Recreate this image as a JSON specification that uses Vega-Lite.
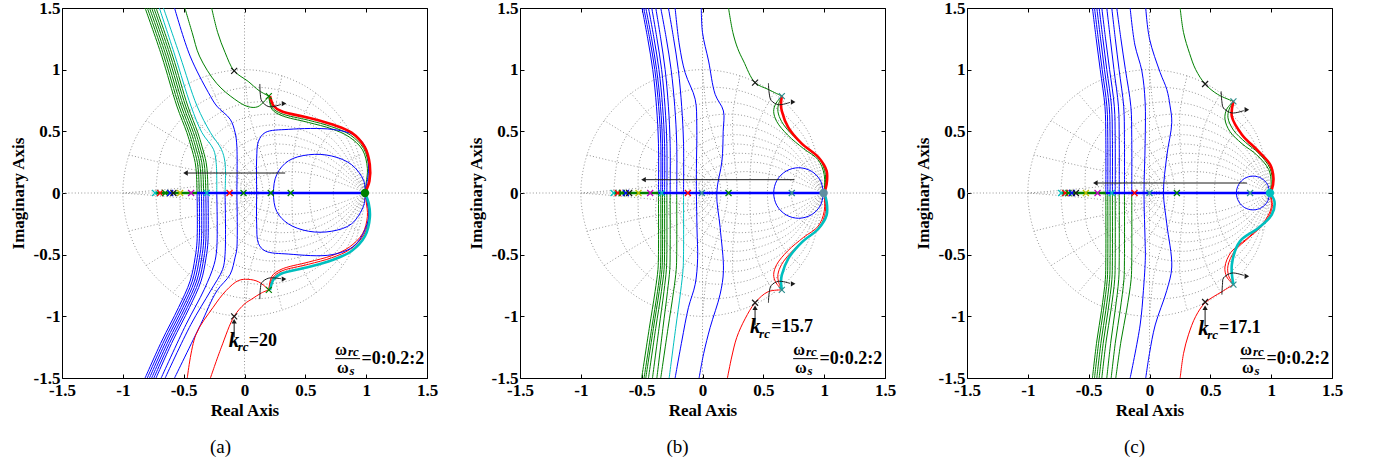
{
"padding":{"left":8,"top":-2,"right":5,"bottom":5},
"config":{"view":{"stroke":"black","strokeWidth":1},"font":"Liberation Serif",
"axis":{"labelFont":"Liberation Serif","labelFontSize":17,"labelFontWeight":"bold","labelColor":"black","titleFont":"Liberation Serif","titleFontSize":17,"titleFontWeight":"bold","titleColor":"black","grid":false,"domain":false,"tickColor":"black","tickWidth":1}},
"datasets":{
"grid":[
{"g":"ah","x":-1.5,"y":0},{"g":"ah","x":1.5,"y":0},{"g":"av","x":0,"y":-1.5},{"g":"av","x":0,"y":1.5},
{"g":"uc","x":1,"y":0},{"g":"uc","x":0.866,"y":0.5},{"g":"uc","x":0.5,"y":0.866},{"g":"uc","x":0,"y":1},{"g":"uc","x":-0.5,"y":0.866},{"g":"uc","x":-0.866,"y":0.5},{"g":"uc","x":-1,"y":0},{"g":"uc","x":-0.866,"y":-0.5},{"g":"uc","x":-0.5,"y":-0.866},{"g":"uc","x":0,"y":-1},{"g":"uc","x":0.5,"y":-0.866},{"g":"uc","x":0.866,"y":-0.5},{"g":"uc","x":1,"y":0},
{"g":"z1u","x":1,"y":0},{"g":"z1u","x":0.822,"y":0.474},{"g":"z1u","x":0.45,"y":0.78},{"g":"z1u","x":0,"y":0.854},{"g":"z1u","x":-0.405,"y":0.702},{"g":"z1u","x":-0.666,"y":0.384},{"g":"z1u","x":-0.729,"y":0},
{"g":"z1l","x":1,"y":0},{"g":"z1l","x":0.822,"y":-0.474},{"g":"z1l","x":0.45,"y":-0.78},{"g":"z1l","x":0,"y":-0.854},{"g":"z1l","x":-0.405,"y":-0.702},{"g":"z1l","x":-0.666,"y":-0.384},{"g":"z1l","x":-0.729,"y":0},
{"g":"z2u","x":1,"y":0},{"g":"z2u","x":0.778,"y":0.449},{"g":"z2u","x":0.404,"y":0.699},{"g":"z2u","x":0,"y":0.726},{"g":"z2u","x":-0.326,"y":0.565},{"g":"z2u","x":-0.508,"y":0.293},{"g":"z2u","x":-0.527,"y":0},
{"g":"z2l","x":1,"y":0},{"g":"z2l","x":0.778,"y":-0.449},{"g":"z2l","x":0.404,"y":-0.699},{"g":"z2l","x":0,"y":-0.726},{"g":"z2l","x":-0.326,"y":-0.565},{"g":"z2l","x":-0.508,"y":-0.293},{"g":"z2l","x":-0.527,"y":0},
{"g":"z3u","x":1,"y":0},{"g":"z3u","x":0.735,"y":0.424},{"g":"z3u","x":0.36,"y":0.623},{"g":"z3u","x":0,"y":0.61},{"g":"z3u","x":-0.259,"y":0.448},{"g":"z3u","x":-0.38,"y":0.22},{"g":"z3u","x":-0.372,"y":0},
{"g":"z3l","x":1,"y":0},{"g":"z3l","x":0.735,"y":-0.424},{"g":"z3l","x":0.36,"y":-0.623},{"g":"z3l","x":0,"y":-0.61},{"g":"z3l","x":-0.259,"y":-0.448},{"g":"z3l","x":-0.38,"y":-0.22},{"g":"z3l","x":-0.372,"y":0},
{"g":"z4u","x":1,"y":0},{"g":"z4u","x":0.689,"y":0.398},{"g":"z4u","x":0.317,"y":0.548},{"g":"z4u","x":0,"y":0.504},{"g":"z4u","x":-0.201,"y":0.347},{"g":"z4u","x":-0.276,"y":0.16},{"g":"z4u","x":-0.254,"y":0},
{"g":"z4l","x":1,"y":0},{"g":"z4l","x":0.689,"y":-0.398},{"g":"z4l","x":0.317,"y":-0.548},{"g":"z4l","x":0,"y":-0.504},{"g":"z4l","x":-0.201,"y":-0.347},{"g":"z4l","x":-0.276,"y":-0.16},{"g":"z4l","x":-0.254,"y":0},
{"g":"z5u","x":1,"y":0},{"g":"z5u","x":0.83,"y":0.223},{"g":"z5u","x":0.64,"y":0.37},{"g":"z5u","x":0.273,"y":0.473},{"g":"z5u","x":0,"y":0.404},{"g":"z5u","x":-0.149,"y":0.259},{"g":"z5u","x":-0.191,"y":0.11},{"g":"z5u","x":-0.163,"y":0},
{"g":"z5l","x":1,"y":0},{"g":"z5l","x":0.83,"y":-0.223},{"g":"z5l","x":0.64,"y":-0.37},{"g":"z5l","x":0.273,"y":-0.473},{"g":"z5l","x":0,"y":-0.404},{"g":"z5l","x":-0.149,"y":-0.259},{"g":"z5l","x":-0.191,"y":-0.11},{"g":"z5l","x":-0.163,"y":0},
{"g":"z6u","x":1,"y":0},{"g":"z6u","x":0.794,"y":0.213},{"g":"z6u","x":0.585,"y":0.338},{"g":"z6u","x":0.228,"y":0.395},{"g":"z6u","x":0,"y":0.308},{"g":"z6u","x":-0.104,"y":0.18},{"g":"z6u","x":-0.122,"y":0.07},{"g":"z6u","x":-0.095,"y":0},
{"g":"z6l","x":1,"y":0},{"g":"z6l","x":0.794,"y":-0.213},{"g":"z6l","x":0.585,"y":-0.338},{"g":"z6l","x":0.228,"y":-0.395},{"g":"z6l","x":0,"y":-0.308},{"g":"z6l","x":-0.104,"y":-0.18},{"g":"z6l","x":-0.122,"y":-0.07},{"g":"z6l","x":-0.095,"y":0},
{"g":"z7u","x":1,"y":0},{"g":"z7u","x":0.747,"y":0.2},{"g":"z7u","x":0.518,"y":0.299},{"g":"z7u","x":0.179,"y":0.31},{"g":"z7u","x":0,"y":0.215},{"g":"z7u","x":-0.064,"y":0.111},{"g":"z7u","x":-0.067,"y":0.038},{"g":"z7u","x":-0.046,"y":0},
{"g":"z7l","x":1,"y":0},{"g":"z7l","x":0.747,"y":-0.2},{"g":"z7l","x":0.518,"y":-0.299},{"g":"z7l","x":0.179,"y":-0.31},{"g":"z7l","x":0,"y":-0.215},{"g":"z7l","x":-0.064,"y":-0.111},{"g":"z7l","x":-0.067,"y":-0.038},{"g":"z7l","x":-0.046,"y":0},
{"g":"z8u","x":1,"y":0},{"g":"z8u","x":0.681,"y":0.183},{"g":"z8u","x":0.431,"y":0.249},{"g":"z8u","x":0.124,"y":0.214},{"g":"z8u","x":0,"y":0.123},{"g":"z8u","x":-0.031,"y":0.053},{"g":"z8u","x":-0.015,"y":0},
{"g":"z8l","x":1,"y":0},{"g":"z8l","x":0.681,"y":-0.183},{"g":"z8l","x":0.431,"y":-0.249},{"g":"z8l","x":0.124,"y":-0.214},{"g":"z8l","x":0,"y":-0.123},{"g":"z8l","x":-0.031,"y":-0.053},{"g":"z8l","x":-0.015,"y":0},
{"g":"z9u","x":1,"y":0},{"g":"z9u","x":0.563,"y":0.151},{"g":"z9u","x":0.294,"y":0.17},{"g":"z9u","x":0.058,"y":0.1},{"g":"z9u","x":0,"y":0.039},{"g":"z9u","x":-0.002,"y":0},
{"g":"z9l","x":1,"y":0},{"g":"z9l","x":0.563,"y":-0.151},{"g":"z9l","x":0.294,"y":-0.17},{"g":"z9l","x":0.058,"y":-0.1},{"g":"z9l","x":0,"y":-0.039},{"g":"z9l","x":-0.002,"y":0},
{"g":"w1","x":0.951,"y":0.309},{"g":"w1","x":0.88,"y":0.276},{"g":"w1","x":0.823,"y":0.23},{"g":"w1","x":0.781,"y":0.176},{"g":"w1","x":0.752,"y":0.119},{"g":"w1","x":0.736,"y":0.06},{"g":"w1","x":0.73,"y":0},{"g":"w1","x":0.736,"y":-0.06},{"g":"w1","x":0.752,"y":-0.119},{"g":"w1","x":0.781,"y":-0.176},{"g":"w1","x":0.823,"y":-0.23},{"g":"w1","x":0.88,"y":-0.276},{"g":"w1","x":0.951,"y":-0.309},
{"g":"w2","x":0.809,"y":0.588},{"g":"w2","x":0.698,"y":0.485},{"g":"w2","x":0.625,"y":0.378},{"g":"w2","x":0.579,"y":0.276},{"g":"w2","x":0.552,"y":0.179},{"g":"w2","x":0.538,"y":0.088},{"g":"w2","x":0.534,"y":0},{"g":"w2","x":0.538,"y":-0.088},{"g":"w2","x":0.552,"y":-0.179},{"g":"w2","x":0.579,"y":-0.276},{"g":"w2","x":0.625,"y":-0.378},{"g":"w2","x":0.698,"y":-0.485},{"g":"w2","x":0.809,"y":-0.588},
{"g":"w3","x":0.588,"y":0.809},{"g":"w3","x":0.481,"y":0.619},{"g":"w3","x":0.428,"y":0.455},{"g":"w3","x":0.404,"y":0.317},{"g":"w3","x":0.394,"y":0.201},{"g":"w3","x":0.391,"y":0.097},{"g":"w3","x":0.39,"y":0},{"g":"w3","x":0.391,"y":-0.097},{"g":"w3","x":0.394,"y":-0.201},{"g":"w3","x":0.404,"y":-0.317},{"g":"w3","x":0.428,"y":-0.455},{"g":"w3","x":0.481,"y":-0.619},{"g":"w3","x":0.588,"y":-0.809},
{"g":"w4","x":0.309,"y":0.951},{"g":"w4","x":0.253,"y":0.677},{"g":"w4","x":0.248,"y":0.473},{"g":"w4","x":0.259,"y":0.319},{"g":"w4","x":0.273,"y":0.198},{"g":"w4","x":0.282,"y":0.095},{"g":"w4","x":0.285,"y":0},{"g":"w4","x":0.282,"y":-0.095},{"g":"w4","x":0.273,"y":-0.198},{"g":"w4","x":0.259,"y":-0.319},{"g":"w4","x":0.248,"y":-0.473},{"g":"w4","x":0.253,"y":-0.677},{"g":"w4","x":0.309,"y":-0.951},
{"g":"w5","x":0,"y":1},{"g":"w5","x":0.036,"y":0.665},{"g":"w5","x":0.095,"y":0.446},{"g":"w5","x":0.146,"y":0.295},{"g":"w5","x":0.181,"y":0.181},{"g":"w5","x":0.201,"y":0.087},{"g":"w5","x":0.208,"y":0},{"g":"w5","x":0.201,"y":-0.087},{"g":"w5","x":0.181,"y":-0.181},{"g":"w5","x":0.146,"y":-0.295},{"g":"w5","x":0.095,"y":-0.446},{"g":"w5","x":0.036,"y":-0.665},{"g":"w5","x":0,"y":-1},
{"g":"w6","x":-0.309,"y":0.951},{"g":"w6","x":-0.152,"y":0.595},{"g":"w6","x":-0.024,"y":0.389},{"g":"w6","x":0.062,"y":0.256},{"g":"w6","x":0.115,"y":0.158},{"g":"w6","x":0.143,"y":0.076},{"g":"w6","x":0.152,"y":0},{"g":"w6","x":0.143,"y":-0.076},{"g":"w6","x":0.115,"y":-0.158},{"g":"w6","x":0.062,"y":-0.256},{"g":"w6","x":-0.024,"y":-0.389},{"g":"w6","x":-0.152,"y":-0.595},{"g":"w6","x":-0.309,"y":-0.951},
{"g":"w7","x":-0.588,"y":0.809},{"g":"w7","x":-0.297,"y":0.482},{"g":"w7","x":-0.109,"y":0.315},{"g":"w7","x":0.003,"y":0.211},{"g":"w7","x":0.068,"y":0.133},{"g":"w7","x":0.101,"y":0.064},{"g":"w7","x":0.111,"y":0},{"g":"w7","x":0.101,"y":-0.064},{"g":"w7","x":0.068,"y":-0.133},{"g":"w7","x":0.003,"y":-0.211},{"g":"w7","x":-0.109,"y":-0.315},{"g":"w7","x":-0.297,"y":-0.482},{"g":"w7","x":-0.588,"y":-0.809},
{"g":"w8","x":-0.809,"y":0.588},{"g":"w8","x":-0.394,"y":0.342},{"g":"w8","x":-0.162,"y":0.234},{"g":"w8","x":-0.035,"y":0.166},{"g":"w8","x":0.035,"y":0.108},{"g":"w8","x":0.07,"y":0.053},{"g":"w8","x":0.081,"y":0},{"g":"w8","x":0.07,"y":-0.053},{"g":"w8","x":0.035,"y":-0.108},{"g":"w8","x":-0.035,"y":-0.166},{"g":"w8","x":-0.162,"y":-0.234},{"g":"w8","x":-0.394,"y":-0.342},{"g":"w8","x":-0.809,"y":-0.588},
{"g":"w9","x":-0.951,"y":0.309},{"g":"w9","x":-0.441,"y":0.193},{"g":"w9","x":-0.187,"y":0.156},{"g":"w9","x":-0.056,"y":0.123},{"g":"w9","x":0.014,"y":0.085},{"g":"w9","x":0.048,"y":0.044},{"g":"w9","x":0.059,"y":0},{"g":"w9","x":0.048,"y":-0.044},{"g":"w9","x":0.014,"y":-0.085},{"g":"w9","x":-0.056,"y":-0.123},{"g":"w9","x":-0.187,"y":-0.156},{"g":"w9","x":-0.441,"y":-0.193},{"g":"w9","x":-0.951,"y":-0.309},
{"g":"w10","x":-1,"y":0},{"g":"w10","x":-0.441,"y":0.048},{"g":"w10","x":-0.19,"y":0.085},{"g":"w10","x":-0.066,"y":0.086},{"g":"w10","x":0,"y":0.066},{"g":"w10","x":0.033,"y":0.035},{"g":"w10","x":0.043,"y":0},{"g":"w10","x":0.033,"y":-0.035},{"g":"w10","x":0,"y":-0.066},{"g":"w10","x":-0.066,"y":-0.086},{"g":"w10","x":-0.19,"y":-0.085},{"g":"w10","x":-0.441,"y":-0.048},{"g":"w10","x":-1,"y":0}
],
"loci":[
{"p":"a","s":"u1","c":"g","x":-0.39,"y":0},{"p":"a","s":"u1","c":"g","x":-0.395,"y":0.15},{"p":"a","s":"u1","c":"g","x":-0.405,"y":0.246},{"p":"a","s":"u1","c":"g","x":-0.44,"y":0.38},{"p":"a","s":"u1","c":"g","x":-0.474,"y":0.49},{"p":"a","s":"u1","c":"g","x":-0.556,"y":0.705},{"p":"a","s":"u1","c":"g","x":-0.68,"y":1.11},{"p":"a","s":"u1","c":"g","x":-0.817,"y":1.5},
{"p":"a","s":"u2","c":"g","x":-0.372,"y":0},{"p":"a","s":"u2","c":"g","x":-0.377,"y":0.15},{"p":"a","s":"u2","c":"g","x":-0.387,"y":0.246},{"p":"a","s":"u2","c":"g","x":-0.422,"y":0.38},{"p":"a","s":"u2","c":"g","x":-0.456,"y":0.49},{"p":"a","s":"u2","c":"g","x":-0.538,"y":0.705},{"p":"a","s":"u2","c":"g","x":-0.662,"y":1.11},{"p":"a","s":"u2","c":"g","x":-0.799,"y":1.5},
{"p":"a","s":"u3","c":"g","x":-0.354,"y":0},{"p":"a","s":"u3","c":"g","x":-0.359,"y":0.15},{"p":"a","s":"u3","c":"g","x":-0.369,"y":0.246},{"p":"a","s":"u3","c":"g","x":-0.404,"y":0.38},{"p":"a","s":"u3","c":"g","x":-0.438,"y":0.49},{"p":"a","s":"u3","c":"g","x":-0.52,"y":0.705},{"p":"a","s":"u3","c":"g","x":-0.644,"y":1.11},{"p":"a","s":"u3","c":"g","x":-0.781,"y":1.5},
{"p":"a","s":"u4","c":"g","x":-0.336,"y":0},{"p":"a","s":"u4","c":"g","x":-0.341,"y":0.15},{"p":"a","s":"u4","c":"g","x":-0.351,"y":0.246},{"p":"a","s":"u4","c":"g","x":-0.386,"y":0.38},{"p":"a","s":"u4","c":"g","x":-0.42,"y":0.49},{"p":"a","s":"u4","c":"g","x":-0.502,"y":0.705},{"p":"a","s":"u4","c":"g","x":-0.626,"y":1.11},{"p":"a","s":"u4","c":"g","x":-0.763,"y":1.5},
{"p":"a","s":"u5","c":"g","x":-0.318,"y":0},{"p":"a","s":"u5","c":"g","x":-0.323,"y":0.15},{"p":"a","s":"u5","c":"g","x":-0.333,"y":0.246},{"p":"a","s":"u5","c":"g","x":-0.368,"y":0.38},{"p":"a","s":"u5","c":"g","x":-0.402,"y":0.49},{"p":"a","s":"u5","c":"g","x":-0.484,"y":0.705},{"p":"a","s":"u5","c":"g","x":-0.608,"y":1.11},{"p":"a","s":"u5","c":"g","x":-0.745,"y":1.5},
{"p":"a","s":"u6","c":"g","x":-0.3,"y":0},{"p":"a","s":"u6","c":"g","x":-0.305,"y":0.15},{"p":"a","s":"u6","c":"g","x":-0.315,"y":0.246},{"p":"a","s":"u6","c":"g","x":-0.35,"y":0.38},{"p":"a","s":"u6","c":"g","x":-0.384,"y":0.49},{"p":"a","s":"u6","c":"g","x":-0.466,"y":0.705},{"p":"a","s":"u6","c":"g","x":-0.59,"y":1.11},{"p":"a","s":"u6","c":"g","x":-0.727,"y":1.5},
{"p":"a","s":"u7","c":"c","x":-0.228,"y":0},{"p":"a","s":"u7","c":"c","x":-0.233,"y":0.246},{"p":"a","s":"u7","c":"c","x":-0.255,"y":0.354},{"p":"a","s":"u7","c":"c","x":-0.35,"y":0.49},{"p":"a","s":"u7","c":"c","x":-0.44,"y":0.705},{"p":"a","s":"u7","c":"c","x":-0.57,"y":1.11},{"p":"a","s":"u7","c":"c","x":-0.7,"y":1.5},
{"p":"a","s":"u8","c":"c","x":-0.16,"y":0},{"p":"a","s":"u8","c":"c","x":-0.16,"y":0.246},{"p":"a","s":"u8","c":"c","x":-0.19,"y":0.354},{"p":"a","s":"u8","c":"c","x":-0.28,"y":0.49},{"p":"a","s":"u8","c":"c","x":-0.39,"y":0.705},{"p":"a","s":"u8","c":"c","x":-0.53,"y":1.11},{"p":"a","s":"u8","c":"c","x":-0.666,"y":1.5},
{"p":"a","s":"u9","c":"b","x":-0.063,"y":0},{"p":"a","s":"u9","c":"b","x":-0.063,"y":0.38},{"p":"a","s":"u9","c":"b","x":-0.077,"y":0.489},{"p":"a","s":"u9","c":"b","x":-0.118,"y":0.598},{"p":"a","s":"u9","c":"b","x":-0.228,"y":0.705},{"p":"a","s":"u9","c":"b","x":-0.296,"y":0.813},{"p":"a","s":"u9","c":"b","x":-0.447,"y":1.11},{"p":"a","s":"u9","c":"b","x":-0.575,"y":1.5},
{"p":"a","s":"l1","c":"b","x":-0.39,"y":0},{"p":"a","s":"l1","c":"b","x":-0.39,"y":-0.39},{"p":"a","s":"l1","c":"b","x":-0.406,"y":-0.525},{"p":"a","s":"l1","c":"b","x":-0.447,"y":-0.714},{"p":"a","s":"l1","c":"b","x":-0.543,"y":-0.93},{"p":"a","s":"l1","c":"b","x":-0.68,"y":-1.2},{"p":"a","s":"l1","c":"b","x":-0.817,"y":-1.5},
{"p":"a","s":"l2","c":"b","x":-0.372,"y":0},{"p":"a","s":"l2","c":"b","x":-0.372,"y":-0.39},{"p":"a","s":"l2","c":"b","x":-0.388,"y":-0.525},{"p":"a","s":"l2","c":"b","x":-0.429,"y":-0.714},{"p":"a","s":"l2","c":"b","x":-0.525,"y":-0.93},{"p":"a","s":"l2","c":"b","x":-0.662,"y":-1.2},{"p":"a","s":"l2","c":"b","x":-0.799,"y":-1.5},
{"p":"a","s":"l3","c":"b","x":-0.354,"y":0},{"p":"a","s":"l3","c":"b","x":-0.354,"y":-0.39},{"p":"a","s":"l3","c":"b","x":-0.37,"y":-0.525},{"p":"a","s":"l3","c":"b","x":-0.411,"y":-0.714},{"p":"a","s":"l3","c":"b","x":-0.507,"y":-0.93},{"p":"a","s":"l3","c":"b","x":-0.644,"y":-1.2},{"p":"a","s":"l3","c":"b","x":-0.781,"y":-1.5},
{"p":"a","s":"l4","c":"b","x":-0.336,"y":0},{"p":"a","s":"l4","c":"b","x":-0.336,"y":-0.39},{"p":"a","s":"l4","c":"b","x":-0.352,"y":-0.525},{"p":"a","s":"l4","c":"b","x":-0.393,"y":-0.714},{"p":"a","s":"l4","c":"b","x":-0.489,"y":-0.93},{"p":"a","s":"l4","c":"b","x":-0.626,"y":-1.2},{"p":"a","s":"l4","c":"b","x":-0.763,"y":-1.5},
{"p":"a","s":"l5","c":"b","x":-0.318,"y":0},{"p":"a","s":"l5","c":"b","x":-0.318,"y":-0.39},{"p":"a","s":"l5","c":"b","x":-0.334,"y":-0.525},{"p":"a","s":"l5","c":"b","x":-0.375,"y":-0.714},{"p":"a","s":"l5","c":"b","x":-0.471,"y":-0.93},{"p":"a","s":"l5","c":"b","x":-0.608,"y":-1.2},{"p":"a","s":"l5","c":"b","x":-0.745,"y":-1.5},
{"p":"a","s":"l6","c":"b","x":-0.3,"y":0},{"p":"a","s":"l6","c":"b","x":-0.3,"y":-0.39},{"p":"a","s":"l6","c":"b","x":-0.316,"y":-0.525},{"p":"a","s":"l6","c":"b","x":-0.357,"y":-0.714},{"p":"a","s":"l6","c":"b","x":-0.453,"y":-0.93},{"p":"a","s":"l6","c":"b","x":-0.59,"y":-1.2},{"p":"a","s":"l6","c":"b","x":-0.727,"y":-1.5},
{"p":"a","s":"l7","c":"b","x":-0.228,"y":0},{"p":"a","s":"l7","c":"b","x":-0.228,"y":-0.45},{"p":"a","s":"l7","c":"b","x":-0.25,"y":-0.58},{"p":"a","s":"l7","c":"b","x":-0.33,"y":-0.78},{"p":"a","s":"l7","c":"b","x":-0.48,"y":-1.065},{"p":"a","s":"l7","c":"b","x":-0.685,"y":-1.5},
{"p":"a","s":"l8","c":"b","x":-0.16,"y":0},{"p":"a","s":"l8","c":"b","x":-0.16,"y":-0.5},{"p":"a","s":"l8","c":"b","x":-0.18,"y":-0.62},{"p":"a","s":"l8","c":"b","x":-0.28,"y":-0.795},{"p":"a","s":"l8","c":"b","x":-0.44,"y":-1.065},{"p":"a","s":"l8","c":"b","x":-0.652,"y":-1.5},
{"p":"a","s":"l9","c":"b","x":-0.063,"y":0},{"p":"a","s":"l9","c":"b","x":-0.063,"y":-0.45},{"p":"a","s":"l9","c":"b","x":-0.077,"y":-0.52},{"p":"a","s":"l9","c":"b","x":-0.118,"y":-0.66},{"p":"a","s":"l9","c":"b","x":-0.228,"y":-0.795},{"p":"a","s":"l9","c":"b","x":-0.36,"y":-1.065},{"p":"a","s":"l9","c":"b","x":-0.575,"y":-1.5},
{"p":"a","s":"G1","c":"g","x":-0.49,"y":1.5},{"p":"a","s":"G1","c":"g","x":-0.43,"y":1.3},{"p":"a","s":"G1","c":"g","x":-0.37,"y":1.11},{"p":"a","s":"G1","c":"g","x":-0.23,"y":0.89},{"p":"a","s":"G1","c":"g","x":-0.08,"y":0.76},{"p":"a","s":"G1","c":"g","x":0.03,"y":0.7},{"p":"a","s":"G1","c":"g","x":0.11,"y":0.7},{"p":"a","s":"G1","c":"g","x":0.2,"y":0.785},
{"p":"a","s":"G2","c":"g","x":-0.27,"y":1.5},{"p":"a","s":"G2","c":"g","x":-0.22,"y":1.3},{"p":"a","s":"G2","c":"g","x":-0.16,"y":1.14},{"p":"a","s":"G2","c":"g","x":-0.085,"y":0.99},{"p":"a","s":"G2","c":"g","x":0.03,"y":0.905},{"p":"a","s":"G2","c":"g","x":0.12,"y":0.83},{"p":"a","s":"G2","c":"g","x":0.2,"y":0.785},
{"p":"a","s":"R1","c":"r","x":-0.47,"y":-1.5},{"p":"a","s":"R1","c":"r","x":-0.4,"y":-1.15},{"p":"a","s":"R1","c":"r","x":-0.26,"y":-0.93},{"p":"a","s":"R1","c":"r","x":-0.15,"y":-0.79},{"p":"a","s":"R1","c":"r","x":-0.05,"y":-0.71},{"p":"a","s":"R1","c":"r","x":0.03,"y":-0.7},{"p":"a","s":"R1","c":"r","x":0.115,"y":-0.72},{"p":"a","s":"R1","c":"r","x":0.2,"y":-0.785},
{"p":"a","s":"R2","c":"r","x":-0.28,"y":-1.5},{"p":"a","s":"R2","c":"r","x":-0.19,"y":-1.25},{"p":"a","s":"R2","c":"r","x":-0.085,"y":-1},{"p":"a","s":"R2","c":"r","x":0,"y":-0.9},{"p":"a","s":"R2","c":"r","x":0.06,"y":-0.86},{"p":"a","s":"R2","c":"r","x":0.14,"y":-0.81},{"p":"a","s":"R2","c":"r","x":0.2,"y":-0.785},
{"p":"a","s":"gt1","c":"g","x":0.2,"y":0.785},{"p":"a","s":"gt1","c":"g","x":0.23,"y":0.69},{"p":"a","s":"gt1","c":"g","x":0.3,"y":0.645},{"p":"a","s":"gt1","c":"g","x":0.526,"y":0.59},{"p":"a","s":"gt1","c":"g","x":0.717,"y":0.537},{"p":"a","s":"gt1","c":"g","x":0.87,"y":0.47},{"p":"a","s":"gt1","c":"g","x":0.98,"y":0.36},{"p":"a","s":"gt1","c":"g","x":1.02,"y":0.22},{"p":"a","s":"gt1","c":"g","x":1.02,"y":0.09},{"p":"a","s":"gt1","c":"g","x":0.99,"y":0},
{"p":"a","s":"gt2","c":"g","x":0.2,"y":0.785},{"p":"a","s":"gt2","c":"g","x":0.225,"y":0.68},{"p":"a","s":"gt2","c":"g","x":0.3,"y":0.63},{"p":"a","s":"gt2","c":"g","x":0.526,"y":0.572},{"p":"a","s":"gt2","c":"g","x":0.717,"y":0.52},{"p":"a","s":"gt2","c":"g","x":0.86,"y":0.455},{"p":"a","s":"gt2","c":"g","x":0.97,"y":0.35},{"p":"a","s":"gt2","c":"g","x":1.01,"y":0.2},{"p":"a","s":"gt2","c":"g","x":1,"y":0.08},{"p":"a","s":"gt2","c":"g","x":0.99,"y":0},
{"p":"a","s":"rt1","c":"r","x":0.2,"y":-0.785},{"p":"a","s":"rt1","c":"r","x":0.23,"y":-0.69},{"p":"a","s":"rt1","c":"r","x":0.3,"y":-0.635},{"p":"a","s":"rt1","c":"r","x":0.526,"y":-0.578},{"p":"a","s":"rt1","c":"r","x":0.717,"y":-0.525},{"p":"a","s":"rt1","c":"r","x":0.87,"y":-0.455},{"p":"a","s":"rt1","c":"r","x":0.98,"y":-0.34},{"p":"a","s":"rt1","c":"r","x":1.02,"y":-0.2},{"p":"a","s":"rt1","c":"r","x":1.01,"y":-0.08},{"p":"a","s":"rt1","c":"r","x":0.99,"y":0},
{"p":"a","s":"rt2","c":"r","x":0.2,"y":-0.785},{"p":"a","s":"rt2","c":"r","x":0.225,"y":-0.675},{"p":"a","s":"rt2","c":"r","x":0.3,"y":-0.62},{"p":"a","s":"rt2","c":"r","x":0.526,"y":-0.56},{"p":"a","s":"rt2","c":"r","x":0.717,"y":-0.508},{"p":"a","s":"rt2","c":"r","x":0.86,"y":-0.44},{"p":"a","s":"rt2","c":"r","x":0.97,"y":-0.33},{"p":"a","s":"rt2","c":"r","x":1.01,"y":-0.19},{"p":"a","s":"rt2","c":"r","x":1,"y":-0.07},{"p":"a","s":"rt2","c":"r","x":0.99,"y":0},
{"p":"a","s":"lo","c":"b","x":0.99,"y":0},{"p":"a","s":"lo","c":"b","x":1.02,"y":0.2},{"p":"a","s":"lo","c":"b","x":0.99,"y":0.38},{"p":"a","s":"lo","c":"b","x":0.9,"y":0.47},{"p":"a","s":"lo","c":"b","x":0.72,"y":0.516},{"p":"a","s":"lo","c":"b","x":0.36,"y":0.516},{"p":"a","s":"lo","c":"b","x":0.17,"y":0.49},{"p":"a","s":"lo","c":"b","x":0.115,"y":0.42},{"p":"a","s":"lo","c":"b","x":0.1,"y":0.28},{"p":"a","s":"lo","c":"b","x":0.1,"y":0},{"p":"a","s":"lo","c":"b","x":0.1,"y":-0.25},{"p":"a","s":"lo","c":"b","x":0.115,"y":-0.41},{"p":"a","s":"lo","c":"b","x":0.17,"y":-0.47},{"p":"a","s":"lo","c":"b","x":0.36,"y":-0.495},{"p":"a","s":"lo","c":"b","x":0.72,"y":-0.5},{"p":"a","s":"lo","c":"b","x":0.91,"y":-0.42},{"p":"a","s":"lo","c":"b","x":1.02,"y":-0.2},{"p":"a","s":"lo","c":"b","x":0.99,"y":0},
{"p":"a","s":"li","c":"b","x":0.99,"y":0},{"p":"a","s":"li","c":"b","x":0.98,"y":0.1},{"p":"a","s":"li","c":"b","x":0.88,"y":0.23},{"p":"a","s":"li","c":"b","x":0.717,"y":0.3},{"p":"a","s":"li","c":"b","x":0.526,"y":0.31},{"p":"a","s":"li","c":"b","x":0.36,"y":0.26},{"p":"a","s":"li","c":"b","x":0.265,"y":0.15},{"p":"a","s":"li","c":"b","x":0.238,"y":0},{"p":"a","s":"li","c":"b","x":0.265,"y":-0.15},{"p":"a","s":"li","c":"b","x":0.36,"y":-0.25},{"p":"a","s":"li","c":"b","x":0.526,"y":-0.31},{"p":"a","s":"li","c":"b","x":0.717,"y":-0.31},{"p":"a","s":"li","c":"b","x":0.88,"y":-0.25},{"p":"a","s":"li","c":"b","x":0.98,"y":-0.1},{"p":"a","s":"li","c":"b","x":0.99,"y":0},

{"p":"b","s":"u1","c":"b","x":-0.362,"y":0},{"p":"b","s":"u1","c":"b","x":-0.362,"y":0.4},{"p":"b","s":"u1","c":"b","x":-0.378,"y":0.7},{"p":"b","s":"u1","c":"b","x":-0.409,"y":1},{"p":"b","s":"u1","c":"b","x":-0.45,"y":1.25},{"p":"b","s":"u1","c":"b","x":-0.497,"y":1.5},
{"p":"b","s":"u2","c":"b","x":-0.343,"y":0},{"p":"b","s":"u2","c":"b","x":-0.343,"y":0.4},{"p":"b","s":"u2","c":"b","x":-0.36,"y":0.7},{"p":"b","s":"u2","c":"b","x":-0.392,"y":1},{"p":"b","s":"u2","c":"b","x":-0.434,"y":1.25},{"p":"b","s":"u2","c":"b","x":-0.483,"y":1.5},
{"p":"b","s":"u3","c":"b","x":-0.329,"y":0},{"p":"b","s":"u3","c":"b","x":-0.329,"y":0.4},{"p":"b","s":"u3","c":"b","x":-0.345,"y":0.7},{"p":"b","s":"u3","c":"b","x":-0.377,"y":1},{"p":"b","s":"u3","c":"b","x":-0.418,"y":1.25},{"p":"b","s":"u3","c":"b","x":-0.466,"y":1.5},
{"p":"b","s":"u4","c":"b","x":-0.312,"y":0},{"p":"b","s":"u4","c":"b","x":-0.312,"y":0.4},{"p":"b","s":"u4","c":"b","x":-0.328,"y":0.7},{"p":"b","s":"u4","c":"b","x":-0.358,"y":1},{"p":"b","s":"u4","c":"b","x":-0.398,"y":1.25},{"p":"b","s":"u4","c":"b","x":-0.444,"y":1.5},
{"p":"b","s":"u5","c":"b","x":-0.293,"y":0},{"p":"b","s":"u5","c":"b","x":-0.293,"y":0.4},{"p":"b","s":"u5","c":"b","x":-0.308,"y":0.7},{"p":"b","s":"u5","c":"b","x":-0.336,"y":1},{"p":"b","s":"u5","c":"b","x":-0.374,"y":1.25},{"p":"b","s":"u5","c":"b","x":-0.417,"y":1.5},
{"p":"b","s":"u6","c":"b","x":-0.266,"y":0},{"p":"b","s":"u6","c":"b","x":-0.266,"y":0.4},{"p":"b","s":"u6","c":"b","x":-0.28,"y":0.7},{"p":"b","s":"u6","c":"b","x":-0.307,"y":1},{"p":"b","s":"u6","c":"b","x":-0.343,"y":1.25},{"p":"b","s":"u6","c":"b","x":-0.384,"y":1.5},
{"p":"b","s":"u7","c":"b","x":-0.212,"y":0},{"p":"b","s":"u7","c":"b","x":-0.212,"y":0.4},{"p":"b","s":"u7","c":"b","x":-0.228,"y":0.7},{"p":"b","s":"u7","c":"b","x":-0.258,"y":1},{"p":"b","s":"u7","c":"b","x":-0.297,"y":1.25},{"p":"b","s":"u7","c":"b","x":-0.343,"y":1.5},
{"p":"b","s":"u8","c":"b","x":-0.156,"y":0},{"p":"b","s":"u8","c":"b","x":-0.156,"y":0.4},{"p":"b","s":"u8","c":"b","x":-0.171,"y":0.7},{"p":"b","s":"u8","c":"b","x":-0.199,"y":1},{"p":"b","s":"u8","c":"b","x":-0.237,"y":1.25},{"p":"b","s":"u8","c":"b","x":-0.28,"y":1.5},
{"p":"b","s":"l1","c":"g","x":-0.362,"y":0},{"p":"b","s":"l1","c":"g","x":-0.362,"y":-0.5},{"p":"b","s":"l1","c":"g","x":-0.366,"y":-0.62},{"p":"b","s":"l1","c":"g","x":-0.39,"y":-0.8},{"p":"b","s":"l1","c":"g","x":-0.438,"y":-1.1},{"p":"b","s":"l1","c":"g","x":-0.5,"y":-1.5},
{"p":"b","s":"l2","c":"g","x":-0.343,"y":0},{"p":"b","s":"l2","c":"g","x":-0.343,"y":-0.5},{"p":"b","s":"l2","c":"g","x":-0.347,"y":-0.62},{"p":"b","s":"l2","c":"g","x":-0.37,"y":-0.8},{"p":"b","s":"l2","c":"g","x":-0.418,"y":-1.1},{"p":"b","s":"l2","c":"g","x":-0.48,"y":-1.5},
{"p":"b","s":"l3","c":"g","x":-0.329,"y":0},{"p":"b","s":"l3","c":"g","x":-0.329,"y":-0.5},{"p":"b","s":"l3","c":"g","x":-0.333,"y":-0.62},{"p":"b","s":"l3","c":"g","x":-0.356,"y":-0.8},{"p":"b","s":"l3","c":"g","x":-0.404,"y":-1.1},{"p":"b","s":"l3","c":"g","x":-0.466,"y":-1.5},
{"p":"b","s":"l4","c":"g","x":-0.312,"y":0},{"p":"b","s":"l4","c":"g","x":-0.312,"y":-0.5},{"p":"b","s":"l4","c":"g","x":-0.316,"y":-0.62},{"p":"b","s":"l4","c":"g","x":-0.338,"y":-0.8},{"p":"b","s":"l4","c":"g","x":-0.385,"y":-1.1},{"p":"b","s":"l4","c":"g","x":-0.444,"y":-1.5},
{"p":"b","s":"l5","c":"g","x":-0.293,"y":0},{"p":"b","s":"l5","c":"g","x":-0.293,"y":-0.5},{"p":"b","s":"l5","c":"g","x":-0.297,"y":-0.62},{"p":"b","s":"l5","c":"g","x":-0.317,"y":-0.8},{"p":"b","s":"l5","c":"g","x":-0.358,"y":-1.1},{"p":"b","s":"l5","c":"g","x":-0.411,"y":-1.5},
{"p":"b","s":"l6","c":"g","x":-0.266,"y":0},{"p":"b","s":"l6","c":"g","x":-0.266,"y":-0.5},{"p":"b","s":"l6","c":"g","x":-0.269,"y":-0.62},{"p":"b","s":"l6","c":"g","x":-0.288,"y":-0.8},{"p":"b","s":"l6","c":"g","x":-0.326,"y":-1.1},{"p":"b","s":"l6","c":"g","x":-0.375,"y":-1.5},
{"p":"b","s":"l7","c":"g","x":-0.212,"y":0},{"p":"b","s":"l7","c":"g","x":-0.212,"y":-0.5},{"p":"b","s":"l7","c":"g","x":-0.216,"y":-0.62},{"p":"b","s":"l7","c":"g","x":-0.238,"y":-0.8},{"p":"b","s":"l7","c":"g","x":-0.284,"y":-1.1},{"p":"b","s":"l7","c":"g","x":-0.343,"y":-1.5},
{"p":"b","s":"l8","c":"c","x":-0.156,"y":0},{"p":"b","s":"l8","c":"c","x":-0.156,"y":-0.5},{"p":"b","s":"l8","c":"c","x":-0.16,"y":-0.62},{"p":"b","s":"l8","c":"c","x":-0.18,"y":-0.8},{"p":"b","s":"l8","c":"c","x":-0.221,"y":-1.1},{"p":"b","s":"l8","c":"c","x":-0.274,"y":-1.5},
{"p":"b","s":"n9","c":"b","x":-0.225,"y":1.5},{"p":"b","s":"n9","c":"b","x":-0.19,"y":1.2},{"p":"b","s":"n9","c":"b","x":-0.143,"y":0.976},{"p":"b","s":"n9","c":"b","x":-0.06,"y":0.76},{"p":"b","s":"n9","c":"b","x":-0.047,"y":0.55},{"p":"b","s":"n9","c":"b","x":-0.05,"y":0.2},{"p":"b","s":"n9","c":"b","x":-0.05,"y":0},{"p":"b","s":"n9","c":"b","x":-0.045,"y":-0.3},{"p":"b","s":"n9","c":"b","x":-0.04,"y":-0.53},{"p":"b","s":"n9","c":"b","x":-0.06,"y":-0.74},{"p":"b","s":"n9","c":"b","x":-0.116,"y":-0.93},{"p":"b","s":"n9","c":"b","x":-0.17,"y":-1.2},{"p":"b","s":"n9","c":"b","x":-0.225,"y":-1.5},
{"p":"b","s":"n10","c":"b","x":-0.01,"y":1.5},{"p":"b","s":"n10","c":"b","x":0,"y":1.3},{"p":"b","s":"n10","c":"b","x":0.05,"y":1.07},{"p":"b","s":"n10","c":"b","x":0.104,"y":0.8},{"p":"b","s":"n10","c":"b","x":0.172,"y":0.665},{"p":"b","s":"n10","c":"b","x":0.17,"y":0.5},{"p":"b","s":"n10","c":"b","x":0.16,"y":0.26},{"p":"b","s":"n10","c":"b","x":0.117,"y":0},{"p":"b","s":"n10","c":"b","x":0.145,"y":-0.28},{"p":"b","s":"n10","c":"b","x":0.172,"y":-0.63},{"p":"b","s":"n10","c":"b","x":0.145,"y":-0.82},{"p":"b","s":"n10","c":"b","x":0.063,"y":-1.09},{"p":"b","s":"n10","c":"b","x":0.01,"y":-1.3},{"p":"b","s":"n10","c":"b","x":-0.028,"y":-1.5},
{"p":"b","s":"G","c":"g","x":0.214,"y":1.5},{"p":"b","s":"G","c":"g","x":0.25,"y":1.3},{"p":"b","s":"G","c":"g","x":0.29,"y":1.17},{"p":"b","s":"G","c":"g","x":0.337,"y":1.07},{"p":"b","s":"G","c":"g","x":0.432,"y":0.895},{"p":"b","s":"G","c":"g","x":0.54,"y":0.84},{"p":"b","s":"G","c":"g","x":0.652,"y":0.786},
{"p":"b","s":"gt1","c":"g","x":0.652,"y":0.786},{"p":"b","s":"gt1","c":"g","x":0.6,"y":0.72},{"p":"b","s":"gt1","c":"g","x":0.585,"y":0.66},{"p":"b","s":"gt1","c":"g","x":0.61,"y":0.58},{"p":"b","s":"gt1","c":"g","x":0.7,"y":0.47},{"p":"b","s":"gt1","c":"g","x":0.83,"y":0.36},{"p":"b","s":"gt1","c":"g","x":0.95,"y":0.27},{"p":"b","s":"gt1","c":"g","x":1,"y":0.15},{"p":"b","s":"gt1","c":"g","x":1,"y":0},
{"p":"b","s":"gt2","c":"g","x":0.652,"y":0.786},{"p":"b","s":"gt2","c":"g","x":0.625,"y":0.72},{"p":"b","s":"gt2","c":"g","x":0.62,"y":0.66},{"p":"b","s":"gt2","c":"g","x":0.65,"y":0.58},{"p":"b","s":"gt2","c":"g","x":0.72,"y":0.49},{"p":"b","s":"gt2","c":"g","x":0.84,"y":0.38},{"p":"b","s":"gt2","c":"g","x":0.96,"y":0.28},{"p":"b","s":"gt2","c":"g","x":1.01,"y":0.15},{"p":"b","s":"gt2","c":"g","x":1,"y":0},
{"p":"b","s":"rt1","c":"r","x":0.652,"y":-0.786},{"p":"b","s":"rt1","c":"r","x":0.6,"y":-0.72},{"p":"b","s":"rt1","c":"r","x":0.585,"y":-0.66},{"p":"b","s":"rt1","c":"r","x":0.61,"y":-0.58},{"p":"b","s":"rt1","c":"r","x":0.7,"y":-0.47},{"p":"b","s":"rt1","c":"r","x":0.83,"y":-0.36},{"p":"b","s":"rt1","c":"r","x":0.95,"y":-0.27},{"p":"b","s":"rt1","c":"r","x":1,"y":-0.15},{"p":"b","s":"rt1","c":"r","x":1,"y":0},
{"p":"b","s":"rt2","c":"r","x":0.652,"y":-0.786},{"p":"b","s":"rt2","c":"r","x":0.625,"y":-0.72},{"p":"b","s":"rt2","c":"r","x":0.62,"y":-0.66},{"p":"b","s":"rt2","c":"r","x":0.65,"y":-0.58},{"p":"b","s":"rt2","c":"r","x":0.72,"y":-0.49},{"p":"b","s":"rt2","c":"r","x":0.84,"y":-0.38},{"p":"b","s":"rt2","c":"r","x":0.96,"y":-0.28},{"p":"b","s":"rt2","c":"r","x":1.01,"y":-0.15},{"p":"b","s":"rt2","c":"r","x":1,"y":0},
{"p":"b","s":"R","c":"r","x":0.205,"y":-1.5},{"p":"b","s":"R","c":"r","x":0.24,"y":-1.33},{"p":"b","s":"R","c":"r","x":0.282,"y":-1.17},{"p":"b","s":"R","c":"r","x":0.35,"y":-1.02},{"p":"b","s":"R","c":"r","x":0.432,"y":-0.89},{"p":"b","s":"R","c":"r","x":0.54,"y":-0.8},{"p":"b","s":"R","c":"r","x":0.652,"y":-0.786},
{"p":"b","s":"ci","c":"b","x":0.995,"y":0},{"p":"b","s":"ci","c":"b","x":0.968,"y":0.103},{"p":"b","s":"ci","c":"b","x":0.893,"y":0.178},{"p":"b","s":"ci","c":"b","x":0.79,"y":0.205},{"p":"b","s":"ci","c":"b","x":0.688,"y":0.178},{"p":"b","s":"ci","c":"b","x":0.612,"y":0.103},{"p":"b","s":"ci","c":"b","x":0.585,"y":0},{"p":"b","s":"ci","c":"b","x":0.612,"y":-0.103},{"p":"b","s":"ci","c":"b","x":0.688,"y":-0.178},{"p":"b","s":"ci","c":"b","x":0.79,"y":-0.205},{"p":"b","s":"ci","c":"b","x":0.893,"y":-0.178},{"p":"b","s":"ci","c":"b","x":0.968,"y":-0.103},{"p":"b","s":"ci","c":"b","x":0.995,"y":0},

{"p":"c","s":"u1","c":"b","x":-0.359,"y":0},{"p":"c","s":"u1","c":"b","x":-0.359,"y":0.45},{"p":"c","s":"u1","c":"b","x":-0.366,"y":0.7},{"p":"c","s":"u1","c":"b","x":-0.405,"y":1},{"p":"c","s":"u1","c":"b","x":-0.438,"y":1.25},{"p":"c","s":"u1","c":"b","x":-0.469,"y":1.5},
{"p":"c","s":"u2","c":"b","x":-0.343,"y":0},{"p":"c","s":"u2","c":"b","x":-0.343,"y":0.45},{"p":"c","s":"u2","c":"b","x":-0.35,"y":0.7},{"p":"c","s":"u2","c":"b","x":-0.389,"y":1},{"p":"c","s":"u2","c":"b","x":-0.421,"y":1.25},{"p":"c","s":"u2","c":"b","x":-0.452,"y":1.5},
{"p":"c","s":"u3","c":"b","x":-0.324,"y":0},{"p":"c","s":"u3","c":"b","x":-0.324,"y":0.45},{"p":"c","s":"u3","c":"b","x":-0.331,"y":0.7},{"p":"c","s":"u3","c":"b","x":-0.37,"y":1},{"p":"c","s":"u3","c":"b","x":-0.402,"y":1.25},{"p":"c","s":"u3","c":"b","x":-0.433,"y":1.5},
{"p":"c","s":"u4","c":"b","x":-0.305,"y":0},{"p":"c","s":"u4","c":"b","x":-0.305,"y":0.45},{"p":"c","s":"u4","c":"b","x":-0.312,"y":0.7},{"p":"c","s":"u4","c":"b","x":-0.351,"y":1},{"p":"c","s":"u4","c":"b","x":-0.383,"y":1.25},{"p":"c","s":"u4","c":"b","x":-0.414,"y":1.5},
{"p":"c","s":"u5","c":"b","x":-0.282,"y":0},{"p":"c","s":"u5","c":"b","x":-0.282,"y":0.45},{"p":"c","s":"u5","c":"b","x":-0.289,"y":0.7},{"p":"c","s":"u5","c":"b","x":-0.328,"y":1},{"p":"c","s":"u5","c":"b","x":-0.361,"y":1.25},{"p":"c","s":"u5","c":"b","x":-0.392,"y":1.5},
{"p":"c","s":"u6","c":"b","x":-0.249,"y":0},{"p":"c","s":"u6","c":"b","x":-0.249,"y":0.45},{"p":"c","s":"u6","c":"b","x":-0.255,"y":0.7},{"p":"c","s":"u6","c":"b","x":-0.292,"y":1},{"p":"c","s":"u6","c":"b","x":-0.322,"y":1.25},{"p":"c","s":"u6","c":"b","x":-0.351,"y":1.5},
{"p":"c","s":"u7","c":"b","x":-0.206,"y":0},{"p":"c","s":"u7","c":"b","x":-0.206,"y":0.45},{"p":"c","s":"u7","c":"b","x":-0.212,"y":0.7},{"p":"c","s":"u7","c":"b","x":-0.25,"y":1},{"p":"c","s":"u7","c":"b","x":-0.281,"y":1.25},{"p":"c","s":"u7","c":"b","x":-0.31,"y":1.5},
{"p":"c","s":"u8","c":"b","x":-0.146,"y":0},{"p":"c","s":"u8","c":"b","x":-0.146,"y":0.45},{"p":"c","s":"u8","c":"b","x":-0.153,"y":0.7},{"p":"c","s":"u8","c":"b","x":-0.198,"y":1},{"p":"c","s":"u8","c":"b","x":-0.235,"y":1.25},{"p":"c","s":"u8","c":"b","x":-0.269,"y":1.5},
{"p":"c","s":"l1","c":"g","x":-0.359,"y":0},{"p":"c","s":"l1","c":"g","x":-0.359,"y":-0.55},{"p":"c","s":"l1","c":"g","x":-0.363,"y":-0.7},{"p":"c","s":"l1","c":"g","x":-0.394,"y":-0.95},{"p":"c","s":"l1","c":"g","x":-0.433,"y":-1.2},{"p":"c","s":"l1","c":"g","x":-0.469,"y":-1.5},
{"p":"c","s":"l2","c":"g","x":-0.343,"y":0},{"p":"c","s":"l2","c":"g","x":-0.343,"y":-0.55},{"p":"c","s":"l2","c":"g","x":-0.347,"y":-0.7},{"p":"c","s":"l2","c":"g","x":-0.378,"y":-0.95},{"p":"c","s":"l2","c":"g","x":-0.416,"y":-1.2},{"p":"c","s":"l2","c":"g","x":-0.452,"y":-1.5},
{"p":"c","s":"l3","c":"g","x":-0.324,"y":0},{"p":"c","s":"l3","c":"g","x":-0.324,"y":-0.55},{"p":"c","s":"l3","c":"g","x":-0.328,"y":-0.7},{"p":"c","s":"l3","c":"g","x":-0.359,"y":-0.95},{"p":"c","s":"l3","c":"g","x":-0.397,"y":-1.2},{"p":"c","s":"l3","c":"g","x":-0.433,"y":-1.5},
{"p":"c","s":"l4","c":"g","x":-0.305,"y":0},{"p":"c","s":"l4","c":"g","x":-0.305,"y":-0.55},{"p":"c","s":"l4","c":"g","x":-0.309,"y":-0.7},{"p":"c","s":"l4","c":"g","x":-0.34,"y":-0.95},{"p":"c","s":"l4","c":"g","x":-0.378,"y":-1.2},{"p":"c","s":"l4","c":"g","x":-0.414,"y":-1.5},
{"p":"c","s":"l5","c":"g","x":-0.282,"y":0},{"p":"c","s":"l5","c":"g","x":-0.282,"y":-0.55},{"p":"c","s":"l5","c":"g","x":-0.286,"y":-0.7},{"p":"c","s":"l5","c":"g","x":-0.317,"y":-0.95},{"p":"c","s":"l5","c":"g","x":-0.356,"y":-1.2},{"p":"c","s":"l5","c":"g","x":-0.392,"y":-1.5},
{"p":"c","s":"l6","c":"g","x":-0.249,"y":0},{"p":"c","s":"l6","c":"g","x":-0.249,"y":-0.55},{"p":"c","s":"l6","c":"g","x":-0.253,"y":-0.7},{"p":"c","s":"l6","c":"g","x":-0.282,"y":-0.95},{"p":"c","s":"l6","c":"g","x":-0.317,"y":-1.2},{"p":"c","s":"l6","c":"g","x":-0.351,"y":-1.5},
{"p":"c","s":"l7","c":"g","x":-0.206,"y":0},{"p":"c","s":"l7","c":"g","x":-0.206,"y":-0.55},{"p":"c","s":"l7","c":"g","x":-0.21,"y":-0.7},{"p":"c","s":"l7","c":"g","x":-0.241,"y":-0.95},{"p":"c","s":"l7","c":"g","x":-0.279,"y":-1.2},{"p":"c","s":"l7","c":"g","x":-0.315,"y":-1.5},
{"p":"c","s":"l8","c":"g","x":-0.146,"y":0},{"p":"c","s":"l8","c":"g","x":-0.146,"y":-0.55},{"p":"c","s":"l8","c":"g","x":-0.151,"y":-0.7},{"p":"c","s":"l8","c":"g","x":-0.188,"y":-0.95},{"p":"c","s":"l8","c":"g","x":-0.234,"y":-1.2},{"p":"c","s":"l8","c":"g","x":-0.277,"y":-1.5},
{"p":"c","s":"n9","c":"b","x":-0.159,"y":1.5},{"p":"c","s":"n9","c":"b","x":-0.12,"y":1.2},{"p":"c","s":"n9","c":"b","x":-0.063,"y":0.99},{"p":"c","s":"n9","c":"b","x":-0.036,"y":0.74},{"p":"c","s":"n9","c":"b","x":-0.036,"y":0.4},{"p":"c","s":"n9","c":"b","x":-0.045,"y":0},{"p":"c","s":"n9","c":"b","x":-0.036,"y":-0.4},{"p":"c","s":"n9","c":"b","x":-0.034,"y":-0.52},{"p":"c","s":"n9","c":"b","x":-0.05,"y":-0.79},{"p":"c","s":"n9","c":"b","x":-0.077,"y":-1.07},{"p":"c","s":"n9","c":"b","x":-0.159,"y":-1.5},
{"p":"c","s":"n10","c":"b","x":-0.031,"y":1.5},{"p":"c","s":"n10","c":"b","x":0,"y":1.25},{"p":"c","s":"n10","c":"b","x":0.088,"y":0.976},{"p":"c","s":"n10","c":"b","x":0.142,"y":0.84},{"p":"c","s":"n10","c":"b","x":0.169,"y":0.706},{"p":"c","s":"n10","c":"b","x":0.183,"y":0.57},{"p":"c","s":"n10","c":"b","x":0.142,"y":0.3},{"p":"c","s":"n10","c":"b","x":0.115,"y":0},{"p":"c","s":"n10","c":"b","x":0.142,"y":-0.25},{"p":"c","s":"n10","c":"b","x":0.183,"y":-0.6},{"p":"c","s":"n10","c":"b","x":0.142,"y":-0.79},{"p":"c","s":"n10","c":"b","x":0.047,"y":-1.07},{"p":"c","s":"n10","c":"b","x":0,"y":-1.3},{"p":"c","s":"n10","c":"b","x":-0.031,"y":-1.5},
{"p":"c","s":"G","c":"g","x":0.252,"y":1.5},{"p":"c","s":"G","c":"g","x":0.28,"y":1.3},{"p":"c","s":"G","c":"g","x":0.33,"y":1.13},{"p":"c","s":"G","c":"g","x":0.38,"y":1},{"p":"c","s":"G","c":"g","x":0.457,"y":0.884},{"p":"c","s":"G","c":"g","x":0.56,"y":0.8},{"p":"c","s":"G","c":"g","x":0.69,"y":0.743},
{"p":"c","s":"gt1","c":"g","x":0.69,"y":0.743},{"p":"c","s":"gt1","c":"g","x":0.635,"y":0.68},{"p":"c","s":"gt1","c":"g","x":0.62,"y":0.6},{"p":"c","s":"gt1","c":"g","x":0.66,"y":0.5},{"p":"c","s":"gt1","c":"g","x":0.76,"y":0.4},{"p":"c","s":"gt1","c":"g","x":0.88,"y":0.31},{"p":"c","s":"gt1","c":"g","x":0.98,"y":0.19},{"p":"c","s":"gt1","c":"g","x":1,"y":0.08},{"p":"c","s":"gt1","c":"g","x":0.99,"y":0},
{"p":"c","s":"gt2","c":"g","x":0.69,"y":0.743},{"p":"c","s":"gt2","c":"g","x":0.655,"y":0.68},{"p":"c","s":"gt2","c":"g","x":0.645,"y":0.61},{"p":"c","s":"gt2","c":"g","x":0.69,"y":0.51},{"p":"c","s":"gt2","c":"g","x":0.79,"y":0.41},{"p":"c","s":"gt2","c":"g","x":0.9,"y":0.32},{"p":"c","s":"gt2","c":"g","x":0.99,"y":0.2},{"p":"c","s":"gt2","c":"g","x":1.01,"y":0.08},{"p":"c","s":"gt2","c":"g","x":0.99,"y":0},
{"p":"c","s":"rt1","c":"r","x":0.69,"y":-0.743},{"p":"c","s":"rt1","c":"r","x":0.635,"y":-0.68},{"p":"c","s":"rt1","c":"r","x":0.62,"y":-0.6},{"p":"c","s":"rt1","c":"r","x":0.67,"y":-0.48},{"p":"c","s":"rt1","c":"r","x":0.8,"y":-0.37},{"p":"c","s":"rt1","c":"r","x":0.93,"y":-0.25},{"p":"c","s":"rt1","c":"r","x":1,"y":-0.12},{"p":"c","s":"rt1","c":"r","x":0.99,"y":0},
{"p":"c","s":"rt2","c":"r","x":0.69,"y":-0.743},{"p":"c","s":"rt2","c":"r","x":0.65,"y":-0.67},{"p":"c","s":"rt2","c":"r","x":0.645,"y":-0.59},{"p":"c","s":"rt2","c":"r","x":0.7,"y":-0.47},{"p":"c","s":"rt2","c":"r","x":0.82,"y":-0.36},{"p":"c","s":"rt2","c":"r","x":0.95,"y":-0.24},{"p":"c","s":"rt2","c":"r","x":1.01,"y":-0.11},{"p":"c","s":"rt2","c":"r","x":0.99,"y":0},
{"p":"c","s":"R","c":"r","x":0.252,"y":-1.5},{"p":"c","s":"R","c":"r","x":0.28,"y":-1.3},{"p":"c","s":"R","c":"r","x":0.32,"y":-1.15},{"p":"c","s":"R","c":"r","x":0.38,"y":-1},{"p":"c","s":"R","c":"r","x":0.457,"y":-0.89},{"p":"c","s":"R","c":"r","x":0.595,"y":-0.8},{"p":"c","s":"R","c":"r","x":0.69,"y":-0.743},
{"p":"c","s":"ci","c":"b","x":0.988,"y":0},{"p":"c","s":"ci","c":"b","x":0.97,"y":0.069},{"p":"c","s":"ci","c":"b","x":0.92,"y":0.119},{"p":"c","s":"ci","c":"b","x":0.851,"y":0.137},{"p":"c","s":"ci","c":"b","x":0.783,"y":0.119},{"p":"c","s":"ci","c":"b","x":0.733,"y":0.069},{"p":"c","s":"ci","c":"b","x":0.714,"y":0},{"p":"c","s":"ci","c":"b","x":0.733,"y":-0.069},{"p":"c","s":"ci","c":"b","x":0.783,"y":-0.119},{"p":"c","s":"ci","c":"b","x":0.851,"y":-0.137},{"p":"c","s":"ci","c":"b","x":0.92,"y":-0.119},{"p":"c","s":"ci","c":"b","x":0.97,"y":-0.069},{"p":"c","s":"ci","c":"b","x":0.988,"y":0}
],
"thick":[
{"p":"a","s":"ag","c":"g","x":-0.735,"y":0},{"p":"a","s":"ag","c":"g","x":-0.39,"y":0},
{"p":"a","s":"ab","c":"b","x":-0.39,"y":0},{"p":"a","s":"ab","c":"b","x":0.99,"y":0},
{"p":"a","s":"tr","c":"r","x":0.21,"y":0.787},{"p":"a","s":"tr","c":"r","x":0.24,"y":0.706},{"p":"a","s":"tr","c":"r","x":0.3,"y":0.665},{"p":"a","s":"tr","c":"r","x":0.526,"y":0.61},{"p":"a","s":"tr","c":"r","x":0.717,"y":0.557},{"p":"a","s":"tr","c":"r","x":0.88,"y":0.49},{"p":"a","s":"tr","c":"r","x":0.99,"y":0.37},{"p":"a","s":"tr","c":"r","x":1.03,"y":0.23},{"p":"a","s":"tr","c":"r","x":1.027,"y":0.097},{"p":"a","s":"tr","c":"r","x":0.99,"y":0},
{"p":"a","s":"tc","c":"c","x":0.21,"y":-0.787},{"p":"a","s":"tc","c":"c","x":0.24,"y":-0.7},{"p":"a","s":"tc","c":"c","x":0.3,"y":-0.655},{"p":"a","s":"tc","c":"c","x":0.526,"y":-0.6},{"p":"a","s":"tc","c":"c","x":0.717,"y":-0.545},{"p":"a","s":"tc","c":"c","x":0.88,"y":-0.47},{"p":"a","s":"tc","c":"c","x":0.99,"y":-0.35},{"p":"a","s":"tc","c":"c","x":1.03,"y":-0.2},{"p":"a","s":"tc","c":"c","x":1.02,"y":-0.08},{"p":"a","s":"tc","c":"c","x":0.99,"y":0},
{"p":"b","s":"ag","c":"g","x":-0.731,"y":0},{"p":"b","s":"ag","c":"g","x":-0.362,"y":0},
{"p":"b","s":"ab","c":"b","x":-0.362,"y":0},{"p":"b","s":"ab","c":"b","x":0.995,"y":0},
{"p":"b","s":"tr","c":"r","x":0.652,"y":0.786},{"p":"b","s":"tr","c":"r","x":0.645,"y":0.72},{"p":"b","s":"tr","c":"r","x":0.652,"y":0.664},{"p":"b","s":"tr","c":"r","x":0.706,"y":0.53},{"p":"b","s":"tr","c":"r","x":0.816,"y":0.4},{"p":"b","s":"tr","c":"r","x":0.953,"y":0.29},{"p":"b","s":"tr","c":"r","x":1.02,"y":0.18},{"p":"b","s":"tr","c":"r","x":1.02,"y":0.07},{"p":"b","s":"tr","c":"r","x":1,"y":0},
{"p":"b","s":"tc","c":"c","x":0.652,"y":-0.786},{"p":"b","s":"tc","c":"c","x":0.645,"y":-0.72},{"p":"b","s":"tc","c":"c","x":0.652,"y":-0.664},{"p":"b","s":"tc","c":"c","x":0.706,"y":-0.53},{"p":"b","s":"tc","c":"c","x":0.816,"y":-0.4},{"p":"b","s":"tc","c":"c","x":0.953,"y":-0.29},{"p":"b","s":"tc","c":"c","x":1.02,"y":-0.18},{"p":"b","s":"tc","c":"c","x":1.02,"y":-0.07},{"p":"b","s":"tc","c":"c","x":1,"y":0},
{"p":"c","s":"ag","c":"g","x":-0.726,"y":0},{"p":"c","s":"ag","c":"g","x":-0.359,"y":0},
{"p":"c","s":"ab","c":"b","x":-0.359,"y":0},{"p":"c","s":"ab","c":"b","x":0.99,"y":0},
{"p":"c","s":"tr","c":"r","x":0.69,"y":0.743},{"p":"c","s":"tr","c":"r","x":0.677,"y":0.62},{"p":"c","s":"tr","c":"r","x":0.76,"y":0.473},{"p":"c","s":"tr","c":"r","x":0.896,"y":0.338},{"p":"c","s":"tr","c":"r","x":0.992,"y":0.23},{"p":"c","s":"tr","c":"r","x":1.019,"y":0.12},{"p":"c","s":"tr","c":"r","x":1.005,"y":0.027},{"p":"c","s":"tr","c":"r","x":0.99,"y":0},
{"p":"c","s":"tc","c":"c","x":0.69,"y":-0.743},{"p":"c","s":"tc","c":"c","x":0.677,"y":-0.58},{"p":"c","s":"tc","c":"c","x":0.745,"y":-0.39},{"p":"c","s":"tc","c":"c","x":0.896,"y":-0.284},{"p":"c","s":"tc","c":"c","x":1.005,"y":-0.176},{"p":"c","s":"tc","c":"c","x":1.027,"y":-0.068},{"p":"c","s":"tc","c":"c","x":0.99,"y":0}
],
"ar":[
{"p":"a","s":"h","x":0.334,"y":0.162},{"p":"a","s":"h","x":-0.47,"y":0.162},
{"p":"a","s":"cu","x":0.126,"y":0.884},{"p":"a","s":"cu","x":0.13,"y":0.8},{"p":"a","s":"cu","x":0.142,"y":0.746},{"p":"a","s":"cu","x":0.2,"y":0.7},{"p":"a","s":"cu","x":0.3,"y":0.718},
{"p":"a","s":"cl","x":0.126,"y":-0.86},{"p":"a","s":"cl","x":0.13,"y":-0.78},{"p":"a","s":"cl","x":0.142,"y":-0.727},{"p":"a","s":"cl","x":0.2,"y":-0.69},{"p":"a","s":"cl","x":0.3,"y":-0.695},
{"p":"a","s":"kv","x":-0.085,"y":-1.17},{"p":"a","s":"kv","x":-0.085,"y":-1.05},
{"p":"b","s":"h","x":0.756,"y":0.108},{"p":"b","s":"h","x":-0.47,"y":0.108},
{"p":"b","s":"cu","x":0.542,"y":0.89},{"p":"b","s":"cu","x":0.548,"y":0.81},{"p":"b","s":"cu","x":0.565,"y":0.75},{"p":"b","s":"cu","x":0.625,"y":0.716},{"p":"b","s":"cu","x":0.72,"y":0.735},
{"p":"b","s":"cl","x":0.542,"y":-0.89},{"p":"b","s":"cl","x":0.548,"y":-0.81},{"p":"b","s":"cl","x":0.565,"y":-0.75},{"p":"b","s":"cl","x":0.625,"y":-0.716},{"p":"b","s":"cl","x":0.72,"y":-0.733},
{"p":"b","s":"kv","x":0.432,"y":-1.07},{"p":"b","s":"kv","x":0.432,"y":-0.94},
{"p":"c","s":"h","x":0.8,"y":0.081},{"p":"c","s":"h","x":-0.43,"y":0.081},
{"p":"c","s":"cu","x":0.589,"y":0.824},{"p":"c","s":"cu","x":0.595,"y":0.74},{"p":"c","s":"cu","x":0.608,"y":0.689},{"p":"c","s":"cu","x":0.677,"y":0.649},{"p":"c","s":"cu","x":0.775,"y":0.668},
{"p":"c","s":"cl","x":0.595,"y":-0.824},{"p":"c","s":"cl","x":0.6,"y":-0.74},{"p":"c","s":"cl","x":0.608,"y":-0.689},{"p":"c","s":"cl","x":0.677,"y":-0.649},{"p":"c","s":"cl","x":0.775,"y":-0.668},
{"p":"c","s":"kv","x":0.457,"y":-1.08},{"p":"c","s":"kv","x":0.457,"y":-0.94}
],
"hd":[
{"p":"a","x":-0.485,"y":0.162,"d":"l"},{"p":"a","x":0.325,"y":0.725,"d":"r"},{"p":"a","x":0.325,"y":-0.698,"d":"r"},{"p":"a","x":-0.085,"y":-1.04,"d":"u"},
{"p":"b","x":-0.485,"y":0.108,"d":"l"},{"p":"b","x":0.745,"y":0.738,"d":"r"},{"p":"b","x":0.745,"y":-0.736,"d":"r"},{"p":"b","x":0.432,"y":-0.93,"d":"u"},
{"p":"c","x":-0.445,"y":0.081,"d":"l"},{"p":"c","x":0.8,"y":0.675,"d":"r"},{"p":"c","x":0.8,"y":-0.675,"d":"r"},{"p":"c","x":0.457,"y":-0.93,"d":"u"}
],
"mk":[
{"p":"a","x":-0.735,"y":0,"c":"c"},{"p":"a","x":-0.694,"y":0,"c":"r"},{"p":"a","x":-0.652,"y":0,"c":"g"},{"p":"a","x":-0.611,"y":0,"c":"b"},{"p":"a","x":-0.584,"y":0,"c":"k"},{"p":"a","x":-0.529,"y":0,"c":"y"},{"p":"a","x":-0.439,"y":0,"c":"m"},{"p":"a","x":-0.31,"y":0,"c":"c"},{"p":"a","x":-0.123,"y":0,"c":"r"},{"p":"a","x":-0.008,"y":0,"c":"g"},{"p":"a","x":0.216,"y":0,"c":"g"},{"p":"a","x":0.38,"y":0,"c":"g"},{"p":"a","x":0.2,"y":0.785,"c":"g"},{"p":"a","x":0.2,"y":-0.785,"c":"g"},{"p":"a","x":-0.085,"y":0.99,"c":"k"},{"p":"a","x":-0.085,"y":-1,"c":"k"},
{"p":"b","x":-0.731,"y":0,"c":"c"},{"p":"b","x":-0.696,"y":0,"c":"r"},{"p":"b","x":-0.663,"y":0,"c":"g"},{"p":"b","x":-0.63,"y":0,"c":"b"},{"p":"b","x":-0.603,"y":0,"c":"k"},{"p":"b","x":-0.526,"y":0,"c":"y"},{"p":"b","x":-0.43,"y":0,"c":"m"},{"p":"b","x":-0.335,"y":0,"c":"c"},{"p":"b","x":-0.12,"y":0,"c":"r"},{"p":"b","x":-0.005,"y":0,"c":"t"},{"p":"b","x":0.214,"y":0,"c":"g"},{"p":"b","x":0.734,"y":0,"c":"t"},{"p":"b","x":0.652,"y":0.786,"c":"t"},{"p":"b","x":0.652,"y":-0.786,"c":"t"},{"p":"b","x":0.432,"y":0.895,"c":"k"},{"p":"b","x":0.432,"y":-0.89,"c":"k"},
{"p":"c","x":-0.726,"y":0,"c":"c"},{"p":"c","x":-0.693,"y":0,"c":"r"},{"p":"c","x":-0.666,"y":0,"c":"g"},{"p":"c","x":-0.638,"y":0,"c":"b"},{"p":"c","x":-0.605,"y":0,"c":"k"},{"p":"c","x":-0.523,"y":0,"c":"y"},{"p":"c","x":-0.427,"y":0,"c":"m"},{"p":"c","x":-0.31,"y":0,"c":"c"},{"p":"c","x":-0.123,"y":0,"c":"r"},{"p":"c","x":0,"y":0,"c":"t"},{"p":"c","x":0.225,"y":0,"c":"g"},{"p":"c","x":0.827,"y":0,"c":"t"},{"p":"c","x":0.69,"y":0.743,"c":"t"},{"p":"c","x":0.69,"y":-0.743,"c":"t"},{"p":"c","x":0.457,"y":0.884,"c":"k"},{"p":"c","x":0.457,"y":-0.884,"c":"k"}
],
"dot":[{"p":"a","x":0.99,"y":0,"c":"g"},{"p":"b","x":0.995,"y":0,"c":"s"},{"p":"c","x":0.99,"y":0,"c":"c"}],
"tx":[
{"p":"a","r":"k","x":-0.13,"y":-1.2,"t":"k"},{"p":"a","r":"s","x":-0.055,"y":-1.25,"t":"rc"},{"p":"a","r":"n","x":0.035,"y":-1.2,"t":"=20"},
{"p":"b","r":"k","x":0.39,"y":-1.09,"t":"k"},{"p":"b","r":"s","x":0.465,"y":-1.14,"t":"rc"},{"p":"b","r":"n","x":0.565,"y":-1.085,"t":"=15.7"},
{"p":"c","r":"k","x":0.4,"y":-1.105,"t":"k"},{"p":"c","r":"s","x":0.475,"y":-1.155,"t":"rc"},{"p":"c","r":"n","x":0.572,"y":-1.095,"t":"=17.1"},
{"p":"*","r":"w","x":0.745,"y":-1.27,"t":"ω"},{"p":"*","r":"s","x":0.85,"y":-1.288,"t":"rc"},{"p":"*","r":"w","x":0.76,"y":-1.415,"t":"ω"},{"p":"*","r":"s","x":0.862,"y":-1.445,"t":"s"},{"p":"*","r":"n","x":0.962,"y":-1.343,"t":"=0:0.2:2"}
],
"bar":[{"x":0.745,"x2":0.95,"y":-1.343}]
},
"bounds":"flush",
"spacing":93,
"hconcat":[
{"width":365,"height":370,
"title":{"text":"(a)","orient":"bottom","offset":20,"dx":-24,"font":"Liberation Serif","fontSize":19,"fontWeight":"normal","color":"black"},
"resolve":{"axis":{"x":"independent","y":"independent"}},
"layer":[
{"data":{"name":"grid"},"mark":{"type":"line","interpolate":"catmull-rom","stroke":"#8c8c8c","strokeWidth":0.9,"strokeDash":[1,2.2],"clip":true},
"encoding":{"x":{"field":"x","type":"quantitative","scale":{"domain":[-1.5,1.5],"nice":false,"zero":false},"axis":{"title":"Real Axis","orient":"bottom","values":[-1.5,-1,-0.5,0,0.5,1,1.5],"labelExpr":"''+datum.value","labelFlush":false,"labelOverlap":false,"tickSize":-4,"labelPadding":8,"titlePadding":4}},
"y":{"field":"y","type":"quantitative","scale":{"domain":[-1.5,1.5],"nice":false,"zero":false},"axis":{"title":"Imaginary Axis","orient":"left","values":[-1.5,-1,-0.5,0,0.5,1,1.5],"labelExpr":"''+datum.value","labelOverlap":false,"tickSize":-4,"labelPadding":6,"titlePadding":6}},
"detail":{"field":"g"},"order":{"value":null}}},
{"data":{"name":"loci"},"transform":[{"filter":"datum.p=='a'"}],"mark":{"type":"line","interpolate":"catmull-rom","strokeWidth":1,"clip":true},
"encoding":{"x":{"field":"x","type":"quantitative","axis":{"orient":"top","labels":false,"title":null,"values":[-1.5,-1,-0.5,0,0.5,1,1.5],"tickSize":-4}},
"y":{"field":"y","type":"quantitative","axis":{"orient":"right","labels":false,"title":null,"values":[-1.5,-1,-0.5,0,0.5,1,1.5],"tickSize":-4}},
"color":{"field":"c","type":"nominal","scale":{"domain":["b","g","r","c","m","y","k","t","s"],"range":["#0000ff","#008000","#ff0000","#00bfbf","#bf00bf","#bfbf00","#1a1a1a","#2f8f8f","#5f8fa0"]},"legend":null},
"detail":{"field":"s"},"order":{"value":null}}},
{"data":{"name":"thick"},"transform":[{"filter":"datum.p=='a'"}],"mark":{"type":"line","interpolate":"catmull-rom","strokeWidth":2.6,"clip":true},
"encoding":{"x":{"field":"x","type":"quantitative","axis":null},"y":{"field":"y","type":"quantitative","axis":null},
"color":{"field":"c","type":"nominal","legend":null},"detail":{"field":"s"},"order":{"value":null}}},
{"data":{"name":"ar"},"transform":[{"filter":"datum.p=='a'"}],"mark":{"type":"line","interpolate":"catmull-rom","strokeWidth":1,"color":"#1a1a1a"},
"encoding":{"x":{"field":"x","type":"quantitative","axis":null},"y":{"field":"y","type":"quantitative","axis":null},"detail":{"field":"s"},"order":{"value":null}}},
{"data":{"name":"hd"},"transform":[{"filter":"datum.p=='a'"}],"mark":{"type":"point","filled":true,"color":"#1a1a1a","size":28,"opacity":1},
"encoding":{"x":{"field":"x","type":"quantitative","axis":null},"y":{"field":"y","type":"quantitative","axis":null},
"shape":{"field":"d","type":"nominal","scale":{"domain":["l","r","u"],"range":["triangle-left","triangle-right","triangle-up"]},"legend":null}}},
{"data":{"name":"dot"},"transform":[{"filter":"datum.p=='a'"}],"mark":{"type":"circle","size":70,"opacity":1},
"encoding":{"x":{"field":"x","type":"quantitative","axis":null},"y":{"field":"y","type":"quantitative","axis":null},"color":{"field":"c","type":"nominal","legend":null}}},
{"data":{"name":"mk"},"transform":[{"filter":"datum.p=='a'"}],"mark":{"type":"point","shape":"M-1,-1L1,1M-1,1L1,-1","filled":false,"size":36,"strokeWidth":1.2,"opacity":1},
"encoding":{"x":{"field":"x","type":"quantitative","axis":null},"y":{"field":"y","type":"quantitative","axis":null},"color":{"field":"c","type":"nominal","legend":null}}},
{"data":{"name":"tx"},"transform":[{"filter":"datum.p=='a' && datum.r=='k'"}],"mark":{"type":"text","align":"left","baseline":"middle","font":"Liberation Serif","fontSize":21,"fontWeight":"bold","fontStyle":"italic","color":"black"},
"encoding":{"x":{"field":"x","type":"quantitative","axis":null},"y":{"field":"y","type":"quantitative","axis":null},"text":{"field":"t"}}},
{"data":{"name":"tx"},"transform":[{"filter":"(datum.p=='a'||datum.p=='*') && datum.r=='s'"}],"mark":{"type":"text","align":"left","baseline":"middle","font":"Liberation Serif","fontSize":13,"fontWeight":"bold","fontStyle":"italic","color":"black"},
"encoding":{"x":{"field":"x","type":"quantitative","axis":null},"y":{"field":"y","type":"quantitative","axis":null},"text":{"field":"t"}}},
{"data":{"name":"tx"},"transform":[{"filter":"(datum.p=='a'||datum.p=='*') && datum.r=='w'"}],"mark":{"type":"text","align":"left","baseline":"middle","font":"Liberation Serif","fontSize":16,"fontWeight":"bold","color":"black"},
"encoding":{"x":{"field":"x","type":"quantitative","axis":null},"y":{"field":"y","type":"quantitative","axis":null},"text":{"field":"t"}}},
{"data":{"name":"tx"},"transform":[{"filter":"(datum.p=='a'||datum.p=='*') && datum.r=='n'"}],"mark":{"type":"text","align":"left","baseline":"middle","font":"Liberation Serif","fontSize":18,"fontWeight":"bold","color":"black"},
"encoding":{"x":{"field":"x","type":"quantitative","axis":null},"y":{"field":"y","type":"quantitative","axis":null},"text":{"field":"t"}}},
{"data":{"name":"bar"},"mark":{"type":"rule","color":"black","strokeWidth":1},
"encoding":{"x":{"field":"x","type":"quantitative","axis":null},"x2":{"field":"x2"},"y":{"field":"y","type":"quantitative","axis":null}}}
]},
{"bounds":"flush","spacing":82,"hconcat":[
{"width":365,"height":370,
"title":{"text":"(b)","orient":"bottom","offset":20,"dx":-25,"font":"Liberation Serif","fontSize":19,"fontWeight":"normal","color":"black"},
"resolve":{"axis":{"x":"independent","y":"independent"}},
"layer":[
{"data":{"name":"grid"},"mark":{"type":"line","interpolate":"catmull-rom","stroke":"#8c8c8c","strokeWidth":0.9,"strokeDash":[1,2.2],"clip":true},
"encoding":{"x":{"field":"x","type":"quantitative","scale":{"domain":[-1.5,1.5],"nice":false,"zero":false},"axis":{"title":"Real Axis","orient":"bottom","values":[-1.5,-1,-0.5,0,0.5,1,1.5],"labelExpr":"''+datum.value","labelFlush":false,"labelOverlap":false,"tickSize":-4,"labelPadding":8,"titlePadding":4}},
"y":{"field":"y","type":"quantitative","scale":{"domain":[-1.5,1.5],"nice":false,"zero":false},"axis":{"title":"Imaginary Axis","orient":"left","values":[-1.5,-1,-0.5,0,0.5,1,1.5],"labelExpr":"''+datum.value","labelOverlap":false,"tickSize":-4,"labelPadding":6,"titlePadding":6}},
"detail":{"field":"g"},"order":{"value":null}}},
{"data":{"name":"loci"},"transform":[{"filter":"datum.p=='b'"}],"mark":{"type":"line","interpolate":"catmull-rom","strokeWidth":1,"clip":true},
"encoding":{"x":{"field":"x","type":"quantitative","axis":{"orient":"top","labels":false,"title":null,"values":[-1.5,-1,-0.5,0,0.5,1,1.5],"tickSize":-4}},
"y":{"field":"y","type":"quantitative","axis":{"orient":"right","labels":false,"title":null,"values":[-1.5,-1,-0.5,0,0.5,1,1.5],"tickSize":-4}},
"color":{"field":"c","type":"nominal","scale":{"domain":["b","g","r","c","m","y","k","t","s"],"range":["#0000ff","#008000","#ff0000","#00bfbf","#bf00bf","#bfbf00","#1a1a1a","#2f8f8f","#5f8fa0"]},"legend":null},
"detail":{"field":"s"},"order":{"value":null}}},
{"data":{"name":"thick"},"transform":[{"filter":"datum.p=='b'"}],"mark":{"type":"line","interpolate":"catmull-rom","strokeWidth":2.6,"clip":true},
"encoding":{"x":{"field":"x","type":"quantitative","axis":null},"y":{"field":"y","type":"quantitative","axis":null},
"color":{"field":"c","type":"nominal","legend":null},"detail":{"field":"s"},"order":{"value":null}}},
{"data":{"name":"ar"},"transform":[{"filter":"datum.p=='b'"}],"mark":{"type":"line","interpolate":"catmull-rom","strokeWidth":1,"color":"#1a1a1a"},
"encoding":{"x":{"field":"x","type":"quantitative","axis":null},"y":{"field":"y","type":"quantitative","axis":null},"detail":{"field":"s"},"order":{"value":null}}},
{"data":{"name":"hd"},"transform":[{"filter":"datum.p=='b'"}],"mark":{"type":"point","filled":true,"color":"#1a1a1a","size":28,"opacity":1},
"encoding":{"x":{"field":"x","type":"quantitative","axis":null},"y":{"field":"y","type":"quantitative","axis":null},
"shape":{"field":"d","type":"nominal","scale":{"domain":["l","r","u"],"range":["triangle-left","triangle-right","triangle-up"]},"legend":null}}},
{"data":{"name":"dot"},"transform":[{"filter":"datum.p=='b'"}],"mark":{"type":"circle","size":70,"opacity":1},
"encoding":{"x":{"field":"x","type":"quantitative","axis":null},"y":{"field":"y","type":"quantitative","axis":null},"color":{"field":"c","type":"nominal","legend":null}}},
{"data":{"name":"mk"},"transform":[{"filter":"datum.p=='b'"}],"mark":{"type":"point","shape":"M-1,-1L1,1M-1,1L1,-1","filled":false,"size":36,"strokeWidth":1.2,"opacity":1},
"encoding":{"x":{"field":"x","type":"quantitative","axis":null},"y":{"field":"y","type":"quantitative","axis":null},"color":{"field":"c","type":"nominal","legend":null}}},
{"data":{"name":"tx"},"transform":[{"filter":"datum.p=='b' && datum.r=='k'"}],"mark":{"type":"text","align":"left","baseline":"middle","font":"Liberation Serif","fontSize":21,"fontWeight":"bold","fontStyle":"italic","color":"black"},
"encoding":{"x":{"field":"x","type":"quantitative","axis":null},"y":{"field":"y","type":"quantitative","axis":null},"text":{"field":"t"}}},
{"data":{"name":"tx"},"transform":[{"filter":"(datum.p=='b'||datum.p=='*') && datum.r=='s'"}],"mark":{"type":"text","align":"left","baseline":"middle","font":"Liberation Serif","fontSize":13,"fontWeight":"bold","fontStyle":"italic","color":"black"},
"encoding":{"x":{"field":"x","type":"quantitative","axis":null},"y":{"field":"y","type":"quantitative","axis":null},"text":{"field":"t"}}},
{"data":{"name":"tx"},"transform":[{"filter":"(datum.p=='b'||datum.p=='*') && datum.r=='w'"}],"mark":{"type":"text","align":"left","baseline":"middle","font":"Liberation Serif","fontSize":16,"fontWeight":"bold","color":"black"},
"encoding":{"x":{"field":"x","type":"quantitative","axis":null},"y":{"field":"y","type":"quantitative","axis":null},"text":{"field":"t"}}},
{"data":{"name":"tx"},"transform":[{"filter":"(datum.p=='b'||datum.p=='*') && datum.r=='n'"}],"mark":{"type":"text","align":"left","baseline":"middle","font":"Liberation Serif","fontSize":18,"fontWeight":"bold","color":"black"},
"encoding":{"x":{"field":"x","type":"quantitative","axis":null},"y":{"field":"y","type":"quantitative","axis":null},"text":{"field":"t"}}},
{"data":{"name":"bar"},"mark":{"type":"rule","color":"black","strokeWidth":1},
"encoding":{"x":{"field":"x","type":"quantitative","axis":null},"x2":{"field":"x2"},"y":{"field":"y","type":"quantitative","axis":null}}}
]},
{"width":365,"height":370,
"title":{"text":"(c)","orient":"bottom","offset":20,"dx":-15,"font":"Liberation Serif","fontSize":19,"fontWeight":"normal","color":"black"},
"resolve":{"axis":{"x":"independent","y":"independent"}},
"layer":[
{"data":{"name":"grid"},"mark":{"type":"line","interpolate":"catmull-rom","stroke":"#8c8c8c","strokeWidth":0.9,"strokeDash":[1,2.2],"clip":true},
"encoding":{"x":{"field":"x","type":"quantitative","scale":{"domain":[-1.5,1.5],"nice":false,"zero":false},"axis":{"title":"Real Axis","orient":"bottom","values":[-1.5,-1,-0.5,0,0.5,1,1.5],"labelExpr":"''+datum.value","labelFlush":false,"labelOverlap":false,"tickSize":-4,"labelPadding":8,"titlePadding":4}},
"y":{"field":"y","type":"quantitative","scale":{"domain":[-1.5,1.5],"nice":false,"zero":false},"axis":{"title":"Imaginary Axis","orient":"left","values":[-1.5,-1,-0.5,0,0.5,1,1.5],"labelExpr":"''+datum.value","labelOverlap":false,"tickSize":-4,"labelPadding":6,"titlePadding":6}},
"detail":{"field":"g"},"order":{"value":null}}},
{"data":{"name":"loci"},"transform":[{"filter":"datum.p=='c'"}],"mark":{"type":"line","interpolate":"catmull-rom","strokeWidth":1,"clip":true},
"encoding":{"x":{"field":"x","type":"quantitative","axis":{"orient":"top","labels":false,"title":null,"values":[-1.5,-1,-0.5,0,0.5,1,1.5],"tickSize":-4}},
"y":{"field":"y","type":"quantitative","axis":{"orient":"right","labels":false,"title":null,"values":[-1.5,-1,-0.5,0,0.5,1,1.5],"tickSize":-4}},
"color":{"field":"c","type":"nominal","scale":{"domain":["b","g","r","c","m","y","k","t","s"],"range":["#0000ff","#008000","#ff0000","#00bfbf","#bf00bf","#bfbf00","#1a1a1a","#2f8f8f","#5f8fa0"]},"legend":null},
"detail":{"field":"s"},"order":{"value":null}}},
{"data":{"name":"thick"},"transform":[{"filter":"datum.p=='c'"}],"mark":{"type":"line","interpolate":"catmull-rom","strokeWidth":2.6,"clip":true},
"encoding":{"x":{"field":"x","type":"quantitative","axis":null},"y":{"field":"y","type":"quantitative","axis":null},
"color":{"field":"c","type":"nominal","legend":null},"detail":{"field":"s"},"order":{"value":null}}},
{"data":{"name":"ar"},"transform":[{"filter":"datum.p=='c'"}],"mark":{"type":"line","interpolate":"catmull-rom","strokeWidth":1,"color":"#1a1a1a"},
"encoding":{"x":{"field":"x","type":"quantitative","axis":null},"y":{"field":"y","type":"quantitative","axis":null},"detail":{"field":"s"},"order":{"value":null}}},
{"data":{"name":"hd"},"transform":[{"filter":"datum.p=='c'"}],"mark":{"type":"point","filled":true,"color":"#1a1a1a","size":28,"opacity":1},
"encoding":{"x":{"field":"x","type":"quantitative","axis":null},"y":{"field":"y","type":"quantitative","axis":null},
"shape":{"field":"d","type":"nominal","scale":{"domain":["l","r","u"],"range":["triangle-left","triangle-right","triangle-up"]},"legend":null}}},
{"data":{"name":"dot"},"transform":[{"filter":"datum.p=='c'"}],"mark":{"type":"circle","size":70,"opacity":1},
"encoding":{"x":{"field":"x","type":"quantitative","axis":null},"y":{"field":"y","type":"quantitative","axis":null},"color":{"field":"c","type":"nominal","legend":null}}},
{"data":{"name":"mk"},"transform":[{"filter":"datum.p=='c'"}],"mark":{"type":"point","shape":"M-1,-1L1,1M-1,1L1,-1","filled":false,"size":36,"strokeWidth":1.2,"opacity":1},
"encoding":{"x":{"field":"x","type":"quantitative","axis":null},"y":{"field":"y","type":"quantitative","axis":null},"color":{"field":"c","type":"nominal","legend":null}}},
{"data":{"name":"tx"},"transform":[{"filter":"datum.p=='c' && datum.r=='k'"}],"mark":{"type":"text","align":"left","baseline":"middle","font":"Liberation Serif","fontSize":21,"fontWeight":"bold","fontStyle":"italic","color":"black"},
"encoding":{"x":{"field":"x","type":"quantitative","axis":null},"y":{"field":"y","type":"quantitative","axis":null},"text":{"field":"t"}}},
{"data":{"name":"tx"},"transform":[{"filter":"(datum.p=='c'||datum.p=='*') && datum.r=='s'"}],"mark":{"type":"text","align":"left","baseline":"middle","font":"Liberation Serif","fontSize":13,"fontWeight":"bold","fontStyle":"italic","color":"black"},
"encoding":{"x":{"field":"x","type":"quantitative","axis":null},"y":{"field":"y","type":"quantitative","axis":null},"text":{"field":"t"}}},
{"data":{"name":"tx"},"transform":[{"filter":"(datum.p=='c'||datum.p=='*') && datum.r=='w'"}],"mark":{"type":"text","align":"left","baseline":"middle","font":"Liberation Serif","fontSize":16,"fontWeight":"bold","color":"black"},
"encoding":{"x":{"field":"x","type":"quantitative","axis":null},"y":{"field":"y","type":"quantitative","axis":null},"text":{"field":"t"}}},
{"data":{"name":"tx"},"transform":[{"filter":"(datum.p=='c'||datum.p=='*') && datum.r=='n'"}],"mark":{"type":"text","align":"left","baseline":"middle","font":"Liberation Serif","fontSize":18,"fontWeight":"bold","color":"black"},
"encoding":{"x":{"field":"x","type":"quantitative","axis":null},"y":{"field":"y","type":"quantitative","axis":null},"text":{"field":"t"}}},
{"data":{"name":"bar"},"mark":{"type":"rule","color":"black","strokeWidth":1},
"encoding":{"x":{"field":"x","type":"quantitative","axis":null},"x2":{"field":"x2"},"y":{"field":"y","type":"quantitative","axis":null}}}
]}
]}
]
}
